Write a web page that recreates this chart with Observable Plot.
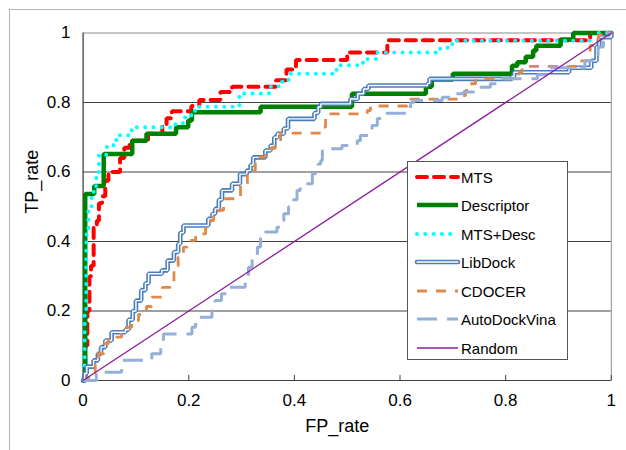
<!DOCTYPE html>
<html><head><meta charset="utf-8">
<script src="https://cdn.jsdelivr.net/npm/d3@7"></script>
<script src="https://cdn.jsdelivr.net/npm/@observablehq/plot@0.6"></script>
<style>
body{margin:0;background:#fff;}
#wrap{position:relative;width:626px;height:450px;overflow:hidden;font-family:"Liberation Sans",Arial,sans-serif;}
#border{position:absolute;left:9px;top:9px;width:700px;height:600px;border:1px solid #b4b4b4;pointer-events:none;}
#legend{position:absolute;left:407px;top:161px;width:159px;height:197px;border:1px solid #555;background:#fff;}
</style></head><body><div id="wrap"><div id="chart"></div><div id="legend"></div><div id="border"></div></div>
<script>
const xTicks = [0, 0.2, 0.4, 0.6, 0.8, 1];
const yTicks = [0, 0.2, 0.4, 0.6, 0.8, 1];
const gridTicks = [0.2, 0.4, 0.6, 0.8];
const seriesNames = ["MTS", "Descriptor", "MTS+Desc", "LibDock", "CDOCER", "AutoDockVina", "Random"];

const mtsFP = [0,0.004,0.008,0.012,0.015,0.02,0.026,0.03,0.036,0.042,0.048,0.07,0.078,0.088,0.123,0.15,0.158,0.168,0.205,0.22,0.26,0.282,0.365,0.385,0.403,0.5,0.576,0.96,1];
const mtsTP = [0,0.1,0.2,0.3,0.33,0.44,0.46,0.51,0.53,0.575,0.6,0.64,0.67,0.69,0.71,0.735,0.755,0.775,0.79,0.807,0.83,0.845,0.864,0.895,0.922,0.944,0.979,1,1];

const descFP = [0,0.004,0.021,0.039,0.093,0.12,0.176,0.199,0.206,0.336,0.509,0.649,0.66,0.70,0.812,0.822,0.838,0.852,0.858,0.904,0.928,1];
const descTP = [0,0.537,0.56,0.652,0.69,0.71,0.729,0.748,0.772,0.788,0.825,0.845,0.866,0.883,0.906,0.916,0.932,0.95,0.963,0.981,1,1];

const mdFP = [0,0.003,0.006,0.01,0.016,0.02,0.025,0.03,0.045,0.063,0.092,0.175,0.19,0.205,0.212,0.296,0.352,0.37,0.389,0.48,0.53,0.555,0.67,0.69,0.708,0.975,1];
const mdTP = [0,0.2,0.42,0.5,0.53,0.56,0.6,0.65,0.677,0.706,0.729,0.74,0.757,0.77,0.788,0.826,0.845,0.86,0.883,0.907,0.925,0.944,0.955,0.968,0.978,1,1];

const libFP = [0,0.003,0.007,0.02,0.028,0.034,0.042,0.054,0.08,0.086,0.094,0.1,0.11,0.118,0.124,0.149,0.16,0.172,0.18,0.184,0.19,0.237,0.245,0.25,0.257,0.263,0.282,0.297,0.31,0.317,0.322,0.345,0.355,0.362,0.368,0.38,0.388,0.438,0.445,0.45,0.506,0.52,0.531,0.54,0.652,0.656,0.812,0.816,0.92,0.962,0.972,0.977,1];
const libTP = [0,0.02,0.04,0.058,0.077,0.096,0.115,0.139,0.146,0.175,0.2,0.23,0.26,0.28,0.307,0.317,0.345,0.37,0.393,0.425,0.446,0.465,0.48,0.494,0.52,0.547,0.566,0.594,0.604,0.62,0.642,0.662,0.676,0.7,0.71,0.725,0.753,0.77,0.787,0.796,0.81,0.825,0.839,0.849,0.855,0.868,0.875,0.887,0.9,0.92,0.96,0.988,1];

const cdoFP = [0,0.01,0.023,0.029,0.039,0.048,0.073,0.092,0.105,0.12,0.13,0.15,0.172,0.18,0.19,0.197,0.213,0.232,0.241,0.247,0.257,0.266,0.298,0.311,0.326,0.332,0.345,0.355,0.364,0.374,0.453,0.459,0.538,0.544,0.614,0.62,0.718,0.724,0.733,0.743,0.819,0.825,0.831,0.94,0.96,0.976,1];
const cdoTP = [0,0.01,0.049,0.077,0.106,0.125,0.153,0.173,0.19,0.213,0.24,0.268,0.33,0.355,0.384,0.403,0.422,0.45,0.46,0.48,0.49,0.523,0.561,0.604,0.633,0.643,0.657,0.668,0.686,0.712,0.729,0.767,0.777,0.79,0.8,0.81,0.82,0.835,0.854,0.868,0.878,0.887,0.904,0.92,0.964,0.995,1];

const advFP = [0,0.025,0.073,0.13,0.147,0.152,0.206,0.213,0.244,0.25,0.262,0.272,0.307,0.313,0.32,0.33,0.336,0.345,0.367,0.374,0.38,0.389,0.398,0.405,0.411,0.434,0.44,0.445,0.45,0.453,0.49,0.519,0.525,0.54,0.547,0.557,0.566,0.62,0.626,0.68,0.705,0.72,0.746,0.771,0.784,0.86,0.88,0.95,0.965,0.975,0.985,1];
const advTP = [0,0.024,0.058,0.077,0.1,0.134,0.153,0.182,0.2,0.23,0.25,0.268,0.297,0.326,0.36,0.384,0.41,0.427,0.441,0.46,0.48,0.5,0.52,0.547,0.566,0.595,0.614,0.623,0.633,0.667,0.676,0.69,0.705,0.72,0.734,0.754,0.769,0.8,0.806,0.815,0.825,0.83,0.844,0.854,0.868,0.88,0.9,0.92,0.93,0.96,1,1];

const randFP = [0, 1];
const randTP = [0, 1];

const rows = (fp, tp) => fp.map((x, i) => ({fp: x, tp: tp[i]}));

const styles = {
  "MTS": {stroke: "#ff0000", strokeWidth: 4, strokeDasharray: "10,7", strokeLinecap: "round"},
  "Descriptor": {stroke: "#008000", strokeWidth: 4.5},
  "MTS+Desc": {stroke: "#00ffff", strokeWidth: 4, strokeDasharray: "0,8.3", strokeLinecap: "round"},
  "LibDock": {stroke: "#4a7ebb", strokeWidth: 4.6},
  "CDOCER": {stroke: "#e0894a", strokeWidth: 2.8, strokeDasharray: "10,9", strokeLinecap: "butt"},
  "AutoDockVina": {stroke: "#94afd8", strokeWidth: 3, strokeDasharray: "20,10", strokeLinecap: "butt"},
  "Random": {stroke: "#8b1c9c", strokeWidth: 1.3}
};

const stepLine = (data, st) => Plot.line(data, {x: "fp", y: "tp", curve: "step-after", strokeLinejoin: "miter", ...st});

const chart = Plot.plot({
  width: 626, height: 450,
  marginLeft: 82.6, marginRight: 15.2, marginTop: 32.5, marginBottom: 70,
  style: {fontFamily: '"Liberation Sans", Arial, sans-serif', fontSize: "17px", color: "#000", background: "transparent"},
  x: {domain: [0, 1]},
  y: {domain: [0, 1]},
  marks: [
    Plot.gridY(gridTicks, {stroke: "#404040", strokeOpacity: 1}),
    Plot.frame({stroke: "#8c8c8c"}),
    Plot.ruleY([0], {stroke: "#404040"}),
    Plot.ruleX([0], {stroke: "#404040"}),
    Plot.axisX(xTicks, {tickSize: 5, dy: -5, text: null, stroke: "#404040", label: null}),
    Plot.axisX(xTicks, {tickSize: 0, tickPadding: 13, tickFormat: d => String(d), fontSize: 17, label: null}),
    Plot.axisY(yTicks, {tickSize: 0, tickPadding: 12.6, tickFormat: d => String(d), fontSize: 17, label: null}),
    stepLine(rows(mtsFP, mtsTP), styles["MTS"]),
    stepLine(rows(descFP, descTP), styles["Descriptor"]),
    stepLine(rows(mdFP, mdTP), styles["MTS+Desc"]),
    stepLine(rows(libFP, libTP), styles["LibDock"]),
    stepLine(rows(libFP, libTP), {stroke: "#ffffff", strokeWidth: 1.4}),
    stepLine(rows(cdoFP, cdoTP), styles["CDOCER"]),
    stepLine(rows(advFP, advTP), styles["AutoDockVina"]),
    Plot.line(rows(randFP, randTP), {x: "fp", y: "tp", ...styles["Random"]}),
    Plot.text(["FP_rate"], {frameAnchor: "bottom", text: d => d, dx: -10, dy: 51, fontSize: 18}),
    Plot.text(["TP_rate"], {frameAnchor: "left", text: d => d, rotate: -90, dx: -50.6, dy: 7, fontSize: 18})
  ]
});
document.getElementById("chart").appendChild(chart);

// Legend
const lg = d3.select("#legend").append("svg").attr("width", 159).attr("height", 197)
  .style("display", "block").style("font-family", '"Liberation Sans", Arial, sans-serif');
const rowY = [15, 43, 72, 100, 129, 157, 186];
seriesNames.forEach((name, i) => {
  const st = styles[name];
  const y = rowY[i];
  const ln = lg.append("line").attr("x1", 9).attr("x2", 50).attr("y1", y).attr("y2", y)
    .attr("stroke", st.stroke).attr("stroke-width", st.strokeWidth)
    .attr("stroke-linecap", st.strokeLinecap || "butt");
  if (st.strokeDasharray) ln.attr("stroke-dasharray", st.strokeDasharray);
  if (name === "LibDock") {
    ln.attr("stroke-linecap", "round");
    lg.append("line").attr("x1", 9).attr("x2", 50).attr("y1", y).attr("y2", y)
      .attr("stroke", "#fff").attr("stroke-width", 1.4).attr("stroke-linecap", "round");
  }
  lg.append("text").attr("x", 53).attr("y", y + 5.5).attr("font-size", 15).attr("fill", "#000").text(name);
});
</script></body></html>
